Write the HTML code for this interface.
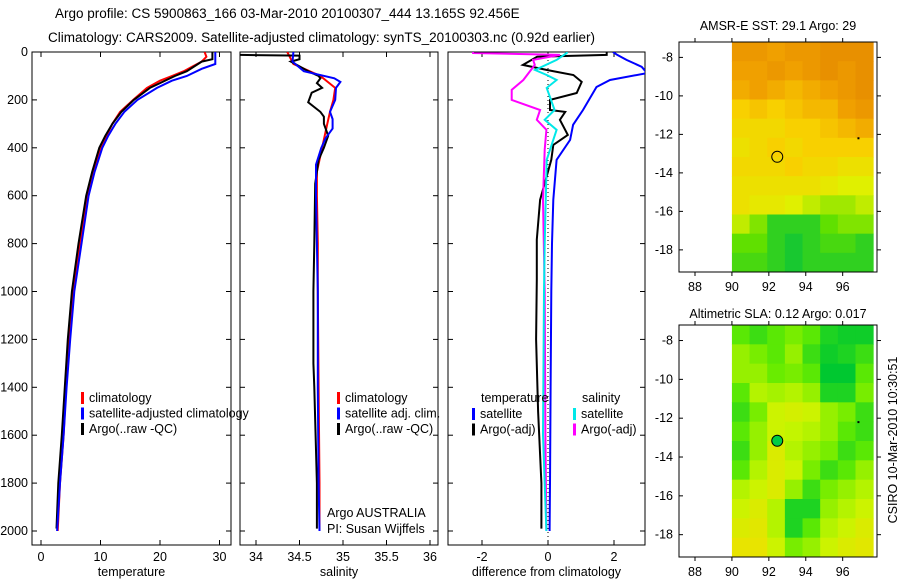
<!DOCTYPE html>
<html><head><meta charset="utf-8">
<style>
body{margin:0;background:#fff;}
svg{display:block;font-family:"Liberation Sans",sans-serif;}
text{font-size:12.5px;fill:#000;}
</style></head>
<body>
<svg id="c" width="900" height="580" viewBox="0 0 900 580">
<text x="55" y="18" font-size="13.5" style="font-size:13.5px">Argo profile: CS 5900863_166 03-Mar-2010 20100307_444 13.165S 92.456E</text>
<text x="48" y="42" style="font-size:13.5px">Climatology: CARS2009. Satellite-adjusted climatology: synTS_20100303.nc (0.92d earlier)</text>
<text x="778" y="30" text-anchor="middle">AMSR-E SST: 29.1 Argo: 29</text>
<text x="778" y="318" text-anchor="middle">Altimetric SLA: 0.12 Argo: 0.017</text>
<text transform="translate(897,440) rotate(-90)" text-anchor="middle">CSIRO 10-Mar-2010 10:30:51</text>
</svg>
<script>
// ---- data ----
const depthTicks=[0,200,400,600,800,1000,1200,1400,1600,1800,2000];
const tempTicks=[0,10,20,30];
const salTicks=[34,34.5,35,35.5,36];
const diffTicks=[-2,0,2];
const tempClimD=[0,20,40,60,80,100,120,150,200,250,300,350,400,500,600,800,1000,1200,1400,1600,1800,2000];
const tempClimV=[27.5,27.8,27,25.5,24,22,20,17.8,15.5,13.3,12,11,10,8.8,7.8,6.5,5.4,4.7,4.2,3.8,3.2,2.8];
const tempSatD=[0,50,70,100,120,150,200,250,300,350,400,500,600,800,1000,1200,1400,1600,1800,2000];
const tempSatV=[29.3,29.3,27,24.5,22,19.5,16.2,14,12.5,11.3,10.3,9,8,6.8,5.6,4.9,4.3,3.8,3.2,2.7];
const tempArgoD=[0,30,40,80,100,130,150,200,250,300,350,400,500,600,800,1000,1200,1400,1600,1800,1990];
const tempArgoV=[28.8,28.8,27,24.5,22.5,20,18.3,15.6,13.5,12,10.8,9.8,8.6,7.6,6.3,5.2,4.5,4,3.5,2.9,2.6];
const salClimD=[0,50,100,150,200,250,300,350,400,500,600,800,1000,1400,1800,2000];
const salClimV=[34.36,34.43,34.74,34.91,34.89,34.85,34.82,34.79,34.76,34.7,34.7,34.71,34.71,34.72,34.73,34.73];
const salSatD=[0,40,80,110,125,150,200,250,280,320,360,400,470,600,800,1000,1400,1800,2000];
const salSatV=[34.43,34.42,34.55,34.9,34.97,34.92,34.91,34.85,34.88,34.88,34.8,34.75,34.69,34.69,34.7,34.71,34.71,34.72,34.73];
const salArgoD=[0,12,15,30,40,60,80,100,110,130,150,170,210,250,270,300,350,400,450,550,800,1000,1300,1400,1800,1990];
const salArgoV=[33.8,33.8,34.5,34.5,34.4,34.5,34.6,34.72,34.74,34.7,34.76,34.64,34.6,34.74,34.78,34.78,34.83,34.78,34.72,34.68,34.67,34.66,34.66,34.67,34.7,34.7];
const dTsatD=[0,12,33,62,88,117,146,242,304,367,450,617,800,1000,1400,1800,2000];
const dTsatV=[1.97,2.1,2.38,2.84,3.0,1.88,1.47,1.06,0.76,0.67,0.26,0.16,0.12,0.1,0.08,0.06,0.05];
const dTargoD=[0,12,20,54,75,96,125,171,200,242,250,283,346,388,450,617,783,950,1200,1500,1800,1990];
const dTargoV=[1.78,1.78,-0.33,-0.76,-0.03,0.77,1.02,0.87,0.06,0.06,0.52,0.36,0.6,0.16,0.1,-0.24,-0.34,-0.34,-0.36,-0.3,-0.2,-0.2];
const dSsatD=[0,4,33,75,96,117,150,242,283,325,450,800,1000,1600,2000];
const dSsatV=[0.57,0.57,0.26,-0.39,-0.04,0.26,-0.04,0.2,-0.1,0.26,-0.04,-0.1,-0.12,-0.15,-0.05];
const dSargoD=[0,4,12,33,54,117,158,200,242,283,325,408,617,1000,1600,2000];
const dSargoV=[-2.27,-2.27,0.36,-0.45,-0.4,-0.75,-1.1,-1.1,-0.24,-0.34,-0.05,-0.1,-0.15,-0.1,-0.08,-0.05];
const latTicks=[-8,-10,-12,-14,-16,-18];
const lonTicks=[88,90,92,94,96];
const sstGrid=[
[.85,.85,.8,.85,.85,.9,.9,.9],[.8,.8,.85,.8,.85,.9,.85,.9],[.75,.8,.75,.7,.75,.8,.85,.9],
[.6,.65,.6,.65,.7,.7,.8,.85],[.55,.55,.55,.6,.6,.65,.7,.75],[.5,.55,.6,.55,.6,.6,.6,.6],
[.55,.55,.55,.6,.55,.55,.5,.5],[.5,.5,.5,.5,.5,.45,.4,.4],[.5,.45,.45,.4,.35,.3,.3,.35],
[.35,.25,.1,.1,.1,.2,.25,.25],[.2,.2,.1,.05,.1,.15,.15,.1],[.15,.15,.1,.05,.1,.1,.1,.1]];
const slaGrid=[
[.3,.2,.3,.4,.3,.1,.05,.05],[.5,.4,.3,.5,.2,.05,.1,.2],[.5,.5,.35,.4,.3,0,0,.3],
[.3,.6,.55,.6,.5,.1,.1,.4],[.2,.4,.7,.75,.7,.5,.4,.2],[.3,.5,.7,.65,.6,.5,.3,.2],
[.2,.5,.8,.6,.5,.4,.2,.3],[.3,.6,.8,.7,.4,.2,.3,.5],[.6,.7,.8,.5,.2,.4,.5,.6],
[.7,.8,.6,.1,.1,.5,.6,.7],[.8,.85,.6,.1,.3,.6,.7,.8],[.9,.9,.7,.4,.5,.7,.8,.85]];
const argoLon=92.456, argoLat=-13.165;

// ---- drawing ----
const svg=document.getElementById('c');
const NS='http://www.w3.org/2000/svg';
function mk(tag,attrs,parent){const e=document.createElementNS(NS,tag);for(const k in attrs)e.setAttribute(k,attrs[k]);(parent||svg).appendChild(e);return e;}
function txt(x,y,s,anchor,parent){const t=mk('text',{x:x,y:y,'text-anchor':anchor||'start'},parent);t.textContent=s;return t;}
const TOP=52,BOT=545;
const yD=d=>TOP+d*0.2395;

function panel(name,x0,x1,xs,xticks,xlabel,series,showY){
  const g=mk('g',{});
  
  
  const box=mk('rect',{x:x0,y:TOP,width:x1-x0,height:BOT-TOP,fill:'none',stroke:'#000','stroke-width':1},g);
  
  
  depthTicks.forEach(d=>{const y=yD(d);
    mk('line',{x1:x0,x2:x0+5,y1:y,y2:y,stroke:'#000'},g);mk('line',{x1:x1,x2:x1-5,y1:y,y2:y,stroke:'#000'},g);
    if(showY){const t=txt(x0-4,y+4,String(d),'end',g);}});
  xticks.forEach(v=>{const x=xs(v);
    mk('line',{x1:x,x2:x,y1:BOT,y2:BOT-5,stroke:'#000'},g);mk('line',{x1:x,x2:x,y1:TOP,y2:TOP+5,stroke:'#000'},g);
    const t=txt(x,561,String(v),'middle',g);});
  const xl=txt((x0+x1)/2,576,xlabel,'middle',g);
  
  
  const cp=mk('clipPath',{id:'cp'+name},g);mk('rect',{x:x0,y:TOP,width:x1-x0,height:BOT-TOP},cp);
  series.forEach(s=>{
    const pts=s.d.map((d,i)=>xs(s.v[i]).toFixed(1)+','+yD(d).toFixed(1)).join(' ');
    const p=mk('polyline',{points:pts,fill:'none',stroke:s.c,'stroke-width':2,'clip-path':'url(#cp'+name+')'},g);
    
    
  });
  return g;
}
const xT=v=>41+v*5.95, xS=v=>256+(v-34)*87, xF=v=>548+v*33;
panel('temperature-panel',32,231,xT,tempTicks,'temperature',[
 {d:tempClimD,v:tempClimV,c:'#ff0000',n:'temp-climatology-line'},
 {d:tempArgoD,v:tempArgoV,c:'#000',n:'temp-argo-line'},
 {d:tempSatD,v:tempSatV,c:'#0000ff',n:'temp-satellite-line'}],true);
panel('salinity-panel',240,438,xS,salTicks,'salinity',[
 {d:salClimD,v:salClimV,c:'#ff0000',n:'sal-climatology-line'},
 {d:salArgoD,v:salArgoV,c:'#000',n:'sal-argo-line'},
 {d:salSatD,v:salSatV,c:'#0000ff',n:'sal-satellite-line'}],false);
const zl=mk('line',{x1:xF(0),x2:xF(0),y1:TOP,y2:BOT,stroke:'#000','stroke-dasharray':'1,3'});


panel('difference-panel',448,645,xF,diffTicks,'difference from climatology',[
 {d:dTargoD,v:dTargoV,c:'#000',n:'diff-temp-argo-line'},
 {d:dTsatD,v:dTsatV,c:'#0000ff',n:'diff-temp-satellite-line'},
 {d:dSargoD,v:dSargoV,c:'#ff00ff',n:'diff-sal-argo-line'},
 {d:dSsatD,v:dSsatV,c:'#00e8e8',n:'diff-sal-satellite-line'}],false);

function legend(x,y,items){
  items.forEach((it,i)=>{const yy=y+i*15.5;
    const m=mk('rect',{x:x,y:yy-10,width:3,height:12,fill:it[1]});
    
    
    const t=txt(x+8,yy,it[0]);
    
    });
}
legend(81,402,[['climatology','#ff0000'],['satellite-adjusted climatology','#0000ff'],['Argo(..raw -QC)','#000']]);
legend(337,402,[['climatology','#ff0000'],['satellite adj. clim.','#0000ff'],['Argo(..raw -QC)','#000']]);
const lt1=txt(481,402,'temperature');
const lt2=txt(582,402,'salinity');
legend(472,418,[['satellite','#0000ff'],['Argo(-adj)','#000']]);
legend(573,418,[['satellite','#00e8e8'],['Argo(-adj)','#ff00ff']]);
const a1=txt(327,517,'Argo AUSTRALIA');
const a2=txt(327,533,'PI: Susan Wijffels');

// maps
function lerpCol(stops,v){v=Math.max(0,Math.min(1,v));const n=stops.length-1;const i=Math.min(n-1,Math.floor(v*n));const f=v*n-i;
 const a=stops[i],b=stops[i+1];return 'rgb('+a.map((c,k)=>Math.round(c+(b[k]-c)*f)).join(',')+')';}
const sstStops=[[0,192,64],[96,224,0],[224,240,0],[248,208,0],[240,160,0],[224,128,0]];
const slaStops=[[0,200,48],[100,235,0],[200,245,0],[245,220,0]];
function map(name,top,bot,grid,stops,filled){
  const x0=679,x1=877;const xL=lo=>695+(lo-88)*18.46;const latTop=-7.2;
  const pxPerDeg=(bot-top)/11.95;const yL=la=>top+(latTop-la)*pxPerDeg;
  const g=mk('g',{});
  
  
  const rows=grid.length,cols=grid[0].length;const lonW=(97.65-90)/cols, latH=(19.15+latTop)/rows*-1;
  grid.forEach((row,r)=>row.forEach((v,c)=>{
    const xa=xL(90+c*lonW),xb=xL(90+(c+1)*lonW),ya=yL(latTop-r*(11.95/rows)),yb=yL(latTop-(r+1)*(11.95/rows));
    const cell=mk('rect',{x:xa,y:ya,width:xb-xa+0.5,height:yb-ya+0.5,fill:lerpCol(stops,v)},g);
    
    }));
  const fr=mk('rect',{x:x0,y:top,width:x1-x0,height:bot-top,fill:'none',stroke:'#000'},g);
  
  
  latTicks.forEach(la=>{const y=yL(la);mk('line',{x1:x0,x2:x0+4,y1:y,y2:y,stroke:'#000'},g);mk('line',{x1:x1,x2:x1+4,y1:y,y2:y,stroke:'#000'},g);
    const t=txt(x0-6,y+4,String(la),'end',g);});
  lonTicks.forEach(lo=>{const x=xL(lo);mk('line',{x1:x,x2:x,y1:bot,y2:bot+4,stroke:'#000'},g);mk('line',{x1:x,x2:x,y1:top,y2:top-4,stroke:'#000'},g);
    const t=txt(x,bot+19,String(lo),'middle',g);});
  const m=mk('circle',{cx:xL(argoLon),cy:yL(argoLat),r:5.5,fill:filled?'#00cc44':'none',stroke:'#000','stroke-width':1},g);
  
  
  mk('rect',{x:xL(96.8),y:yL(-12.15),width:2,height:2,fill:'#000'},g);
}
map('sst-map',42,272,sstGrid,sstStops,false);
map('sla-map',325,557,slaGrid,slaStops,true);
</script>
</body></html>
